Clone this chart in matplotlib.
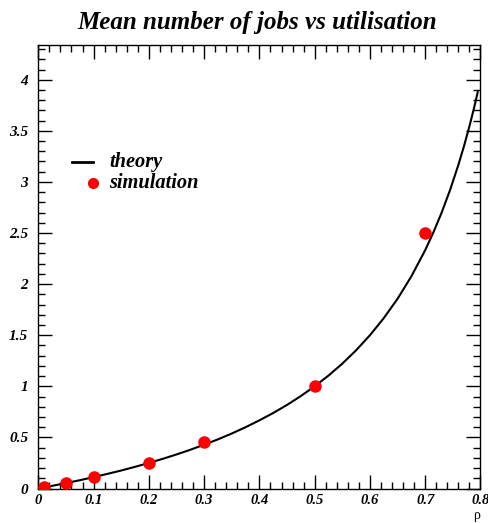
import matplotlib
matplotlib.use("Agg")
import matplotlib.pyplot as plt
from matplotlib.ticker import MultipleLocator
from matplotlib.lines import Line2D

# theory curve
theory_x = [0.0, 0.025, 0.05, 0.075, 0.1, 0.125, 0.15, 0.175, 0.2, 0.225, 0.25, 0.275, 0.3, 0.325,
            0.35, 0.375, 0.4, 0.425, 0.45, 0.475, 0.5, 0.525, 0.55, 0.575, 0.6, 0.625, 0.65,
            0.675, 0.7, 0.715, 0.73, 0.745, 0.76, 0.77, 0.78, 0.788, 0.795]
theory_y = [0.0, 0.026, 0.053, 0.081, 0.111, 0.143, 0.176, 0.212, 0.25, 0.29, 0.333, 0.379, 0.429, 0.481,
            0.538, 0.6, 0.667, 0.739, 0.818, 0.905, 1.0, 1.105, 1.222, 1.353, 1.5, 1.667, 1.857,
            2.077, 2.333, 2.509, 2.704, 2.922, 3.167, 3.348, 3.545, 3.717, 3.878]

# simulation points
sim_x = [0.01, 0.05, 0.1, 0.2, 0.3, 0.5, 0.7]
sim_y = [0.01, 0.055, 0.115, 0.247, 0.459, 1.0, 2.5]

title = "Mean number of jobs vs utilisation"
xlabel = "ρ"
legend_labels = ["theory", "simulation"]

serif = ["Liberation Serif", "DejaVu Serif"]
W, H = 489, 523
fig = plt.figure(figsize=(W / 100, H / 100), dpi=100)
ax = fig.add_axes([38.3 / W, 1 - 488.5 / H, (480.5 - 38.3) / W, (488.5 - 45) / H])

ax.plot(theory_x, theory_y, color="black", lw=1.5, zorder=2)
ax.plot(sim_x, sim_y, "o", color="red", ms=8, mec="red", zorder=3)

ax.set_xlim(0, 0.8)
ax.set_ylim(0, 4.34)

ax.xaxis.set_major_locator(MultipleLocator(0.1))
ax.xaxis.set_minor_locator(MultipleLocator(0.02))
ax.yaxis.set_major_locator(MultipleLocator(0.5))
ax.yaxis.set_minor_locator(MultipleLocator(0.1))


def fmt(v, pos):
    s = ("%.1f" % v).rstrip("0").rstrip(".")
    return s if s else "0"


ax.xaxis.set_major_formatter(plt.FuncFormatter(fmt))
ax.yaxis.set_major_formatter(plt.FuncFormatter(fmt))

ax.tick_params(which="both", direction="in", top=True, right=True, color="black", width=1)
ax.tick_params(which="major", length=10)
ax.tick_params(which="minor", length=5)
ax.tick_params(axis="y", which="major", pad=7.3)
ax.tick_params(axis="x", which="major", pad=4.0)
for lab in ax.get_xticklabels():
    lab.set_fontsize(10.5)
for lab in ax.get_yticklabels():
    lab.set_fontsize(11)
for lab in ax.get_xticklabels() + ax.get_yticklabels():
    lab.set_fontfamily(serif)
    lab.set_fontweight("bold")
    lab.set_fontstyle("italic")
for sp in ax.spines.values():
    sp.set_linewidth(1)

fig.text(257 / W, 1 - 23 / H, title, ha="center", va="center", fontsize=18,
         fontweight="bold", fontstyle="italic", family=serif)
fig.text(477 / W, 1 - 515 / H, xlabel, ha="center", va="center", fontsize=10, family=serif)

# legend drawn manually
fig.add_artist(Line2D([71.7 / W, 93.3 / W], [1 - 161.7 / H, 1 - 161.7 / H], color="black", lw=2,
                      transform=fig.transFigure))
fig.add_artist(Line2D([93.3 / W], [1 - 182.7 / H], marker="o", color="red", ms=7, ls="none",
                      transform=fig.transFigure))
fig.text(109 / W, 1 - 162 / H, legend_labels[0], ha="left", va="center", fontsize=14.7,
         fontweight="bold", fontstyle="italic", family=serif)
fig.text(109 / W, 1 - 183 / H, legend_labels[1], ha="left", va="center", fontsize=14.7,
         fontweight="bold", fontstyle="italic", family=serif)

fig.savefig("out.png", dpi=100)
